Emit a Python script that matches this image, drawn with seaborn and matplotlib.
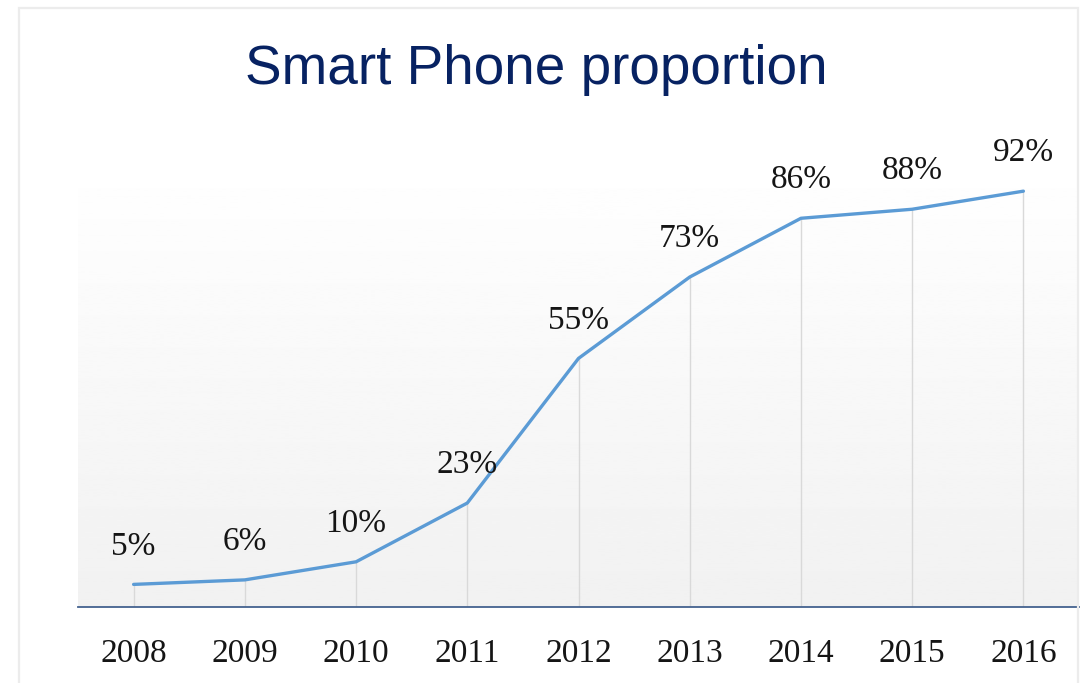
import numpy as np
import seaborn as sns
import matplotlib.pyplot as plt
from matplotlib.patches import Rectangle

# data
years = [2008, 2009, 2010, 2011, 2012, 2013, 2014, 2015, 2016]
share = [5, 6, 10, 23, 55, 73, 86, 88, 92]
labels = [f"{v}%" for v in share]

sns.set_style("white")
plt.rcParams['font.family'] = ['Liberation Serif', 'DejaVu Serif']

fig = plt.figure(figsize=(10.84, 6.83), dpi=100)
ax = fig.add_axes([78 / 1084, (683 - 607) / 683, 1001 / 1084, 452 / 683])

# soft vertical gradient behind the plot area (white on top, light grey at bottom)
grad = np.linspace(1.0, 0.945, 256).reshape(-1, 1)
ax.imshow(grad, cmap='gray', vmin=0, vmax=1, aspect='auto',
          extent=[2007.5, 2016.5, 0, 100], origin='upper', zorder=0)

# drop lines from the axis up to each point
ax.vlines(years, 0, share, color='#d9d9d9', lw=1, zorder=1)

sns.lineplot(x=years, y=share, ax=ax, color='#5b9bd5', lw=2.4, zorder=3)

for x, y, t in zip(years, share, labels):
    ax.annotate(t, (x, y), xytext=(0, 21.5), textcoords='offset points',
                ha='center', va='baseline', fontsize=24, color='#151515', zorder=4)

ax.set_xlim(2007.5, 2016.5)
ax.set_ylim(0, 100)
ax.set_xticks(years)
ax.set_xticklabels([str(y) for y in years], fontsize=24, color='#151515')
ax.tick_params(axis='x', length=0, pad=22.5)
ax.set_yticks([])
for s in ['top', 'right', 'left']:
    ax.spines[s].set_visible(False)
ax.spines['bottom'].set_color('#44628f')
ax.spines['bottom'].set_linewidth(1.3)

fig.text(536 / 1084, 1 - 70 / 683, 'Smart Phone proportion', ha='center', va='center',
         fontsize=39.5, color='#072262', family=['Liberation Sans', 'DejaVu Sans'])

# thin light frame round the chart
fig.patches.append(Rectangle((19 / 1084, -0.05), 1059 / 1084, 1 - 7.5 / 683 + 0.05,
                             transform=fig.transFigure, fill=False,
                             edgecolor='#ececec', lw=1.6))

plt.savefig('out.png', dpi=100)
